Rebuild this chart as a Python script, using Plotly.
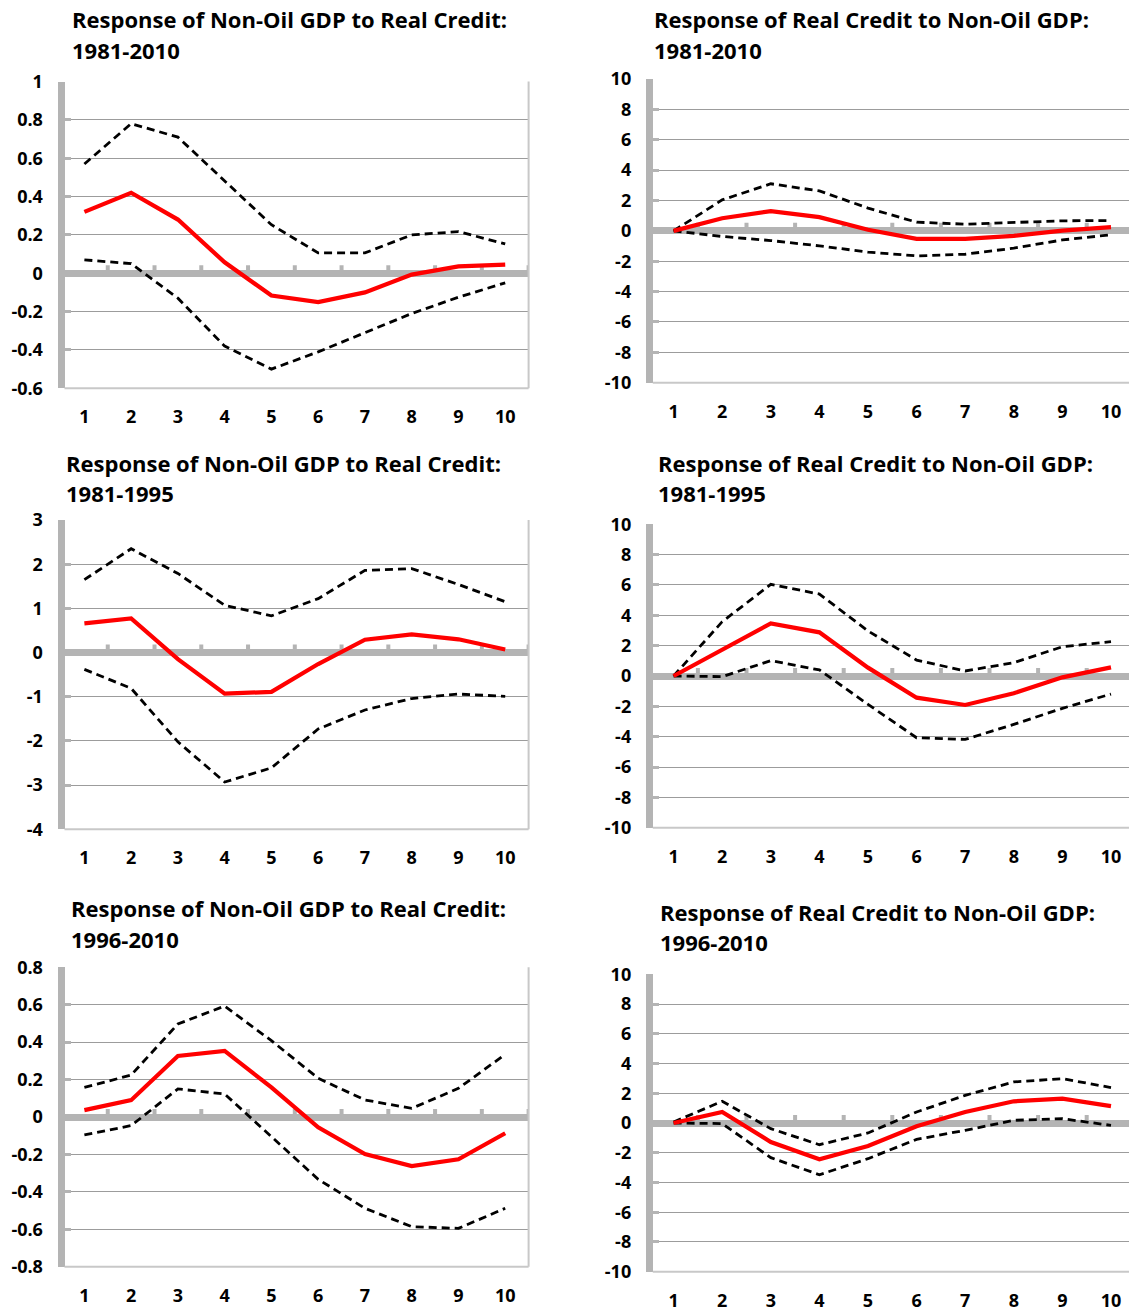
import plotly.graph_objects as go

# ---------------- data ----------------
periods = [1, 2, 3, 4, 5, 6, 7, 8, 9, 10]
period_labels = ["1", "2", "3", "4", "5", "6", "7", "8", "9", "10"]

# Panel 1: Non-Oil GDP to Real Credit, 1981-2010
p1_resp = [0.32, 0.42, 0.28, 0.057, -0.116, -0.15, -0.10, -0.007, 0.036, 0.045]
p1_upper = [0.57, 0.78, 0.71, 0.48, 0.253, 0.106, 0.106, 0.20, 0.217, 0.153]
p1_lower = [0.07, 0.05, -0.13, -0.38, -0.50, -0.41, -0.31, -0.21, -0.125, -0.05]

# Panel 2: Real Credit to Non-Oil GDP, 1981-2010
p2_resp = [0.0, 0.83, 1.3, 0.9, 0.07, -0.53, -0.53, -0.33, 0.02, 0.24]
p2_upper = [0.0, 2.04, 3.1, 2.63, 1.5, 0.57, 0.44, 0.57, 0.66, 0.68]
p2_lower = [0.0, -0.37, -0.64, -0.99, -1.4, -1.65, -1.54, -1.14, -0.6, -0.26]

# Panel 3: Non-Oil GDP to Real Credit, 1981-1995
p3_resp = [0.66, 0.77, -0.15, -0.93, -0.89, -0.26, 0.29, 0.41, 0.30, 0.07]
p3_upper = [1.65, 2.35, 1.79, 1.07, 0.83, 1.22, 1.86, 1.90, 1.54, 1.15]
p3_lower = [-0.38, -0.81, -2.02, -2.93, -2.61, -1.73, -1.30, -1.04, -0.94, -0.99]

# Panel 4: Real Credit to Non-Oil GDP, 1981-1995
p4_resp = [0.0, 1.71, 3.47, 2.88, 0.55, -1.43, -1.91, -1.14, -0.09, 0.57]
p4_upper = [0.0, 3.58, 6.04, 5.4, 2.97, 1.05, 0.33, 0.88, 1.93, 2.26]
p4_lower = [0.0, -0.04, 1.01, 0.4, -1.87, -4.07, -4.18, -3.19, -2.13, -1.19]

# Panel 5: Non-Oil GDP to Real Credit, 1996-2010
p5_resp = [0.037, 0.09, 0.326, 0.353, 0.158, -0.055, -0.198, -0.262, -0.226, -0.087]
p5_upper = [0.158, 0.224, 0.497, 0.593, 0.408, 0.207, 0.091, 0.046, 0.153, 0.335]
p5_lower = [-0.096, -0.046, 0.15, 0.123, -0.105, -0.333, -0.488, -0.586, -0.595, -0.488]

# Panel 6: Real Credit to Non-Oil GDP, 1996-2010
p6_resp = [0.0, 0.74, -1.28, -2.44, -1.55, -0.22, 0.74, 1.46, 1.64, 1.14]
p6_upper = [0.07, 1.46, -0.38, -1.46, -0.67, 0.74, 1.86, 2.76, 2.98, 2.38]
p6_lower = [0.0, -0.04, -2.33, -3.48, -2.4, -1.1, -0.49, 0.18, 0.29, -0.16]

titles_line1 = [
    "Response of Non-Oil GDP to Real Credit:",
    "Response of Real Credit to Non-Oil GDP:",
    "Response of Non-Oil GDP to Real Credit:",
    "Response of Real Credit to Non-Oil GDP:",
    "Response of Non-Oil GDP to Real Credit:",
    "Response of Real Credit to Non-Oil GDP:",
]
titles_line2 = ["1981-2010", "1981-2010", "1981-1995", "1981-1995", "1996-2010", "1996-2010"]

p1_ticks = [-0.6, -0.4, -0.2, 0, 0.2, 0.4, 0.6, 0.8, 1]
p3_ticks = [-4, -3, -2, -1, 0, 1, 2, 3]
p5_ticks = [-0.8, -0.6, -0.4, -0.2, 0, 0.2, 0.4, 0.6, 0.8]
credit_ticks = [-10, -8, -6, -4, -2, 0, 2, 4, 6, 8, 10]

# ---------------- layout geometry (pixels in the 1129x1311 page) ----------------
W, H = 1129, 1311
AXIS_LW = 7

panels = [
    dict(d=(p1_resp, p1_upper, p1_lower), ticks=p1_ticks, l=61, r=528.6, t=81.5, b=388.3,
         tx=69.5, ty1=18.5, ty2=50),
    dict(d=(p2_resp, p2_upper, p2_lower), ticks=credit_ticks, l=649.3, r=1135.3, t=79, b=382.7,
         tx=652, ty1=18.5, ty2=50),
    dict(d=(p3_resp, p3_upper, p3_lower), ticks=p3_ticks, l=61, r=528.6, t=520, b=829.3,
         tx=63.5, ty1=463.3, ty2=493.5),
    dict(d=(p4_resp, p4_upper, p4_lower), ticks=credit_ticks, l=649.3, r=1135.3, t=524.3, b=827.7,
         tx=655.5, ty1=463.3, ty2=493.5),
    dict(d=(p5_resp, p5_upper, p5_lower), ticks=p5_ticks, l=61, r=528.6, t=967.3, b=1266.7,
         tx=68.5, ty1=908.3, ty2=939.3),
    dict(d=(p6_resp, p6_upper, p6_lower), ticks=credit_ticks, l=649.3, r=1135.3, t=974.3, b=1271.7,
         tx=657.5, ty1=911.7, ty2=942),
]

FONT = "Open Sans"
AXIS_GRAY = "#b4b4b4"
GRID_GRAY = "#9c9c9c"
BORDER_GRAY = "#c8c8c8"


def fmt(v):
    return f"{v:g}".replace("\u2212", "-")


def px_x(x):
    return x / W


def px_y(y):
    return 1 - y / H


fig = go.Figure()
annotations = []
shapes = []

for i, p in enumerate(panels):
    n = i + 1
    xa = "x" if n == 1 else f"x{n}"
    ya = "y" if n == 1 else f"y{n}"
    xkey = "xaxis" if n == 1 else f"xaxis{n}"
    ykey = "yaxis" if n == 1 else f"yaxis{n}"

    resp, upper, lower = p["d"]
    for series in (upper, lower):
        fig.add_trace(go.Scatter(x=periods, y=series, mode="lines", xaxis=xa, yaxis=ya,
                                 line=dict(color="black", width=2.8, dash="8px,5px"),
                                 showlegend=False, hoverinfo="skip"))
    fig.add_trace(go.Scatter(x=periods, y=resp, mode="lines", xaxis=xa, yaxis=ya,
                             line=dict(color="#ff0000", width=4.2),
                             showlegend=False, hoverinfo="skip"))

    step = (p["r"] - p["l"]) / 10.0
    left_px = p["l"] + AXIS_LW / 2.0        # axis line is drawn just outside the domain
    right_px = min(p["r"], W)
    x_lo = 0.5 + (left_px - p["l"]) / step
    x_hi = 0.5 + (right_px - p["l"]) / step

    ticks = p["ticks"]
    fig.layout[xkey] = dict(
        domain=[px_x(left_px), min(px_x(right_px), 1.0)], anchor=ya, range=[x_lo, x_hi],
        tickmode="array", tickvals=periods, ticktext=period_labels,
        showgrid=False, zeroline=False, showline=False, ticks="",
        ticklabelstandoff=16, automargin=False,
        tickfont=dict(family=FONT, size=18, color="black", weight="bold"),
    )
    fig.layout[ykey] = dict(
        domain=[px_y(p["b"]), px_y(p["t"])], anchor=xa,
        range=[ticks[0], ticks[-1]],
        tickmode="array", tickvals=ticks, ticktext=[fmt(v) for v in ticks],
        showgrid=True, gridcolor=GRID_GRAY, gridwidth=1.3,
        zeroline=True, zerolinecolor=AXIS_GRAY, zerolinewidth=7,
        showline=True, linecolor=AXIS_GRAY, linewidth=AXIS_LW,
        ticks="inside", ticklen=6, tickwidth=3, tickcolor=AXIS_GRAY,
        ticklabelstandoff=11, automargin=False,
        tickfont=dict(family=FONT, size=18, color="black", weight="bold"),
    )

    # plot-area border: bottom and right edges
    shapes.append(dict(type="line", xref=f"{xa} domain", yref=f"{ya} domain",
                       x0=0, x1=1, y0=0, y1=0, layer="above",
                       line=dict(color=BORDER_GRAY, width=2)))
    if p["r"] <= W:
        shapes.append(dict(type="line", xref=f"{xa} domain", yref=f"{ya} domain",
                           x0=1, x1=1, y0=0, y1=1, layer="above",
                           line=dict(color=BORDER_GRAY, width=2)))

    # small category-boundary tick marks sitting on the zero axis
    for k in range(len(periods)):
        bx = periods[k] + 0.5
        if bx <= x_hi:
            shapes.append(dict(type="line", xref=xa, yref=ya, ysizemode="pixel", yanchor=0,
                               x0=bx, x1=bx, y0=3, y1=8, layer="below",
                               line=dict(color=AXIS_GRAY, width=4)))

    for txt, ty in ((titles_line1[i], p["ty1"]), (titles_line2[i], p["ty2"])):
        annotations.append(dict(text=txt, xref="paper", yref="paper",
                                x=px_x(p["tx"]), y=px_y(ty), xanchor="left", yanchor="middle",
                                showarrow=False,
                                font=dict(family=FONT, size=22, color="black", weight="bold")))

fig.update_layout(
    width=W, height=H,
    margin=dict(l=0, r=0, t=0, b=0, pad=0, autoexpand=False),
    paper_bgcolor="white", plot_bgcolor="white",
    annotations=annotations, shapes=shapes,
    showlegend=False,
)

fig.write_html(
    "out.html",
    config={"displayModeBar": False},
    post_script="document.body.style.margin='0';document.body.style.overflow='hidden';",
)
